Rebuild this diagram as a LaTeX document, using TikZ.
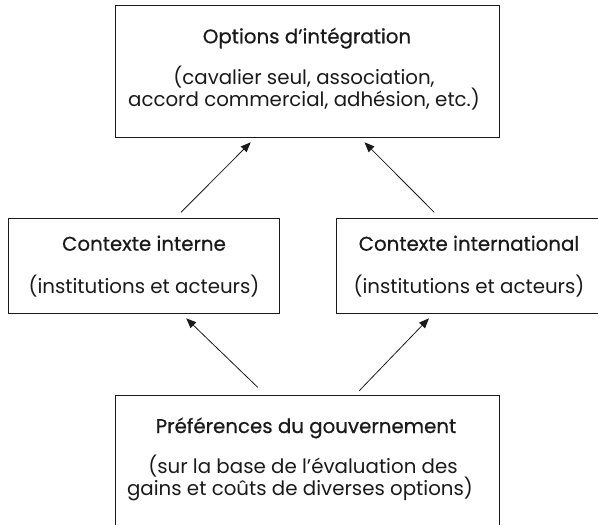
\documentclass[tikz,border=0pt]{standalone}
\usepackage{fontspec}
\setmainfont{Poppins}
\newfontfamily\titlefont{Poppins}[FakeBold=0.6]
\usetikzlibrary{arrows.meta}
\definecolor{ink}{HTML}{1A1A1A}
\tikzset{
  box/.style={draw=ink, line width=1pt, inner sep=0pt, outer sep=0pt},
  ttl/.style={anchor=base, inner sep=0pt, text=ink, font=\titlefont\fontsize{19.8}{23}\selectfont},
  sub/.style={anchor=base, inner sep=0pt, text=ink, font=\fontsize{19.8}{23}\selectfont},
  arr/.style={draw=ink, line width=0.8pt, -{Triangle[length=10pt,width=8pt]}}
}
\begin{document}
\begin{tikzpicture}[x=1pt,y=-1pt]
\useasboundingbox (0,0) rectangle (598,525);
% boxes
\node[box, minimum width=383.3pt, minimum height=132.3pt] (top) at (307.6,71.15) {};
\node[box, minimum width=270.6pt, minimum height=94.6pt] (lbox) at (144,266) {};
\node[box, minimum width=270.6pt, minimum height=94.6pt] (rbox) at (471.3,266) {};
\node[box, minimum width=383.3pt, minimum height=134pt] (bot) at (307.6,462.7) {};
% texts
\node[ttl] (t1) at (307,43.3) {Options d’intégration};
\node[sub] (t2) at (304,84) {(cavalier seul, association,};
\node[sub] (t3) at (304,106) {accord commercial, adhésion, etc.)};
\node[ttl] (l1) at (144,250.7) {Contexte interne};
\node[sub] (l2) at (144,293.3) {(institutions et acteurs)};
\node[ttl] (r1) at (469,250.7) {Contexte international};
\node[sub] (r2) at (469,293.3) {(institutions et acteurs)};
\node[ttl] (b1) at (306,433) {Préférences du gouvernement};
\node[sub] (b2) at (303,473) {(sur la base de l’évaluation des};
\node[sub] (b3) at (300,495) {gains et coûts de diverses options)};
% arrows
\draw[arr] ([shift={(37,-6.4)}]lbox.north) -- ([shift={(-56.9,5)}]top.south);
\draw[arr] ([shift={(-37.1,-6.4)}]rbox.north) -- ([shift={(56.9,5)}]top.south);
\draw[arr] ([shift={(-49.9,-8.4)}]bot.north) -- ([shift={(42.2,5)}]lbox.south);
\draw[arr] ([shift={(51.7,-5)}]bot.north) -- ([shift={(-42.3,5)}]rbox.south);
\end{tikzpicture}
\end{document}
